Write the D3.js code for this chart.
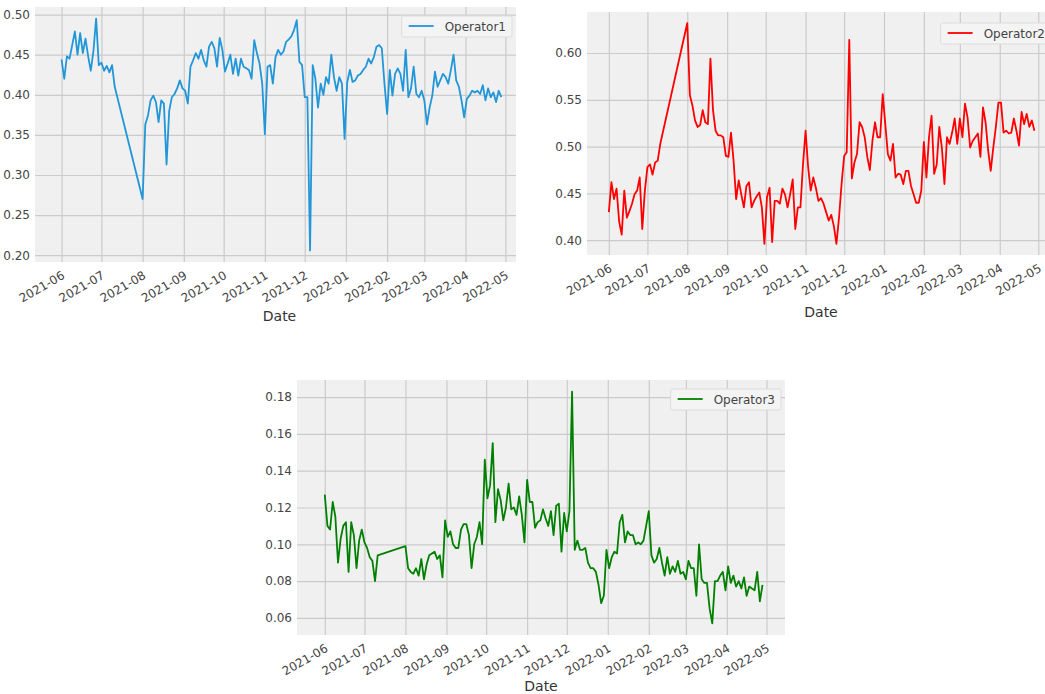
<!DOCTYPE html>
<html>
<head>
<meta charset="utf-8">
<script src="https://cdn.jsdelivr.net/npm/d3@7"></script>
<style>
	body { margin: 0; background: #fff; }
	svg { display: block; font-family: "DejaVu Sans", sans-serif; }
</style>
</head>
<body>
<svg id="chart" width="1045" height="694"></svg>
<script>
// sampled every other day, gap in July
const dates = [
	"2021-06-01","2021-06-03","2021-06-05","2021-06-07","2021-06-09","2021-06-11","2021-06-13","2021-06-15","2021-06-17","2021-06-19","2021-06-21","2021-06-23","2021-06-25","2021-06-27","2021-06-29",
	"2021-07-01","2021-07-03","2021-07-05","2021-07-07","2021-07-09","2021-07-11",
	"2021-08-01","2021-08-03","2021-08-05","2021-08-07","2021-08-09","2021-08-11","2021-08-13","2021-08-15","2021-08-17","2021-08-19","2021-08-21","2021-08-23","2021-08-25","2021-08-27","2021-08-29","2021-08-31",
	"2021-09-02","2021-09-04","2021-09-06","2021-09-08","2021-09-10","2021-09-12","2021-09-14","2021-09-16","2021-09-18","2021-09-20","2021-09-22","2021-09-24","2021-09-26","2021-09-28","2021-09-30",
	"2021-10-02","2021-10-04","2021-10-06","2021-10-08","2021-10-10","2021-10-12","2021-10-14","2021-10-16","2021-10-18","2021-10-20","2021-10-22","2021-10-24","2021-10-26","2021-10-28","2021-10-30",
	"2021-11-01","2021-11-03","2021-11-05","2021-11-07","2021-11-09","2021-11-11","2021-11-13","2021-11-15","2021-11-17","2021-11-19","2021-11-21","2021-11-23","2021-11-25","2021-11-27","2021-11-29",
	"2021-12-01","2021-12-03","2021-12-05","2021-12-07","2021-12-09","2021-12-11","2021-12-13","2021-12-15","2021-12-17","2021-12-19","2021-12-21","2021-12-23","2021-12-25","2021-12-27","2021-12-29","2021-12-31",
	"2022-01-02","2022-01-04","2022-01-06","2022-01-08","2022-01-10","2022-01-12","2022-01-14","2022-01-16","2022-01-18","2022-01-20","2022-01-22","2022-01-24","2022-01-26","2022-01-28","2022-01-30",
	"2022-02-01","2022-02-03","2022-02-05","2022-02-07","2022-02-09","2022-02-11","2022-02-13","2022-02-15","2022-02-17","2022-02-19","2022-02-21","2022-02-23","2022-02-25","2022-02-27",
	"2022-03-01","2022-03-03","2022-03-05","2022-03-07","2022-03-09","2022-03-11","2022-03-13","2022-03-15","2022-03-17","2022-03-19","2022-03-21","2022-03-23","2022-03-25","2022-03-27","2022-03-29","2022-03-31",
	"2022-04-02","2022-04-04","2022-04-06","2022-04-08","2022-04-10","2022-04-12","2022-04-14","2022-04-16","2022-04-18","2022-04-20","2022-04-22","2022-04-24","2022-04-26","2022-04-28"
];

const operator1 = [
	0.444,0.420,0.448,0.445,0.462,0.479,0.450,0.477,0.452,0.470,0.448,0.430,0.455,0.495,0.437,
	0.440,0.430,0.436,0.428,0.437,0.410,
	0.270,0.363,0.374,0.393,0.399,0.391,0.366,0.393,0.389,0.313,0.380,0.397,0.401,0.408,0.418,0.408,
	0.405,0.389,0.435,0.443,0.452,0.445,0.456,0.443,0.435,0.460,0.466,0.458,0.435,0.471,0.456,
	0.429,0.439,0.450,0.426,0.445,0.424,0.445,0.435,0.433,0.431,0.420,0.468,0.452,0.439,0.414,
	0.351,0.435,0.437,0.414,0.447,0.456,0.450,0.454,0.466,0.469,0.473,0.481,0.493,0.441,0.437,
	0.397,0.397,0.206,0.437,0.420,0.384,0.414,0.400,0.422,0.414,0.450,0.422,0.405,0.422,0.414,0.345,
	0.416,0.431,0.416,0.418,0.424,0.426,0.431,0.435,0.445,0.439,0.447,0.460,0.462,0.458,0.414,
	0.376,0.431,0.399,0.426,0.433,0.426,0.405,0.456,0.397,0.408,0.435,0.401,0.397,0.405,
	0.393,0.363,0.384,0.399,0.429,0.410,0.418,0.426,0.422,0.414,0.431,0.450,0.418,0.410,0.393,0.372,
	0.395,0.399,0.405,0.403,0.405,0.401,0.412,0.393,0.408,0.397,0.403,0.391,0.405,0.397
];

const operator2 = [
	0.430,0.462,0.444,0.455,0.420,0.406,0.453,0.424,0.431,0.439,0.449,0.453,0.467,0.412,0.453,
	0.478,0.481,0.470,0.483,0.485,0.503,
	0.632,0.555,0.544,0.528,0.521,0.523,0.539,0.526,0.524,0.594,0.539,0.517,0.512,0.512,0.510,0.490,
	0.489,0.515,0.485,0.444,0.464,0.449,0.435,0.458,0.462,0.435,0.442,0.447,0.451,0.435,0.396,
	0.446,0.456,0.398,0.442,0.442,0.439,0.455,0.449,0.435,0.449,0.465,0.412,0.435,0.435,0.481,
	0.517,0.478,0.453,0.467,0.456,0.442,0.445,0.439,0.430,0.421,0.427,0.415,0.396,0.424,0.460,
	0.490,0.494,0.614,0.466,0.483,0.492,0.526,0.521,0.510,0.489,0.475,0.506,0.526,0.510,0.510,0.556,
	0.524,0.492,0.485,0.503,0.467,0.471,0.470,0.460,0.474,0.474,0.458,0.449,0.440,0.440,0.453,
	0.505,0.467,0.510,0.533,0.471,0.481,0.521,0.499,0.460,0.510,0.503,0.515,0.530,0.503,
	0.530,0.510,0.546,0.531,0.499,0.506,0.510,0.514,0.489,0.542,0.526,0.496,0.474,0.499,0.521,0.547,
	0.547,0.515,0.517,0.514,0.515,0.530,0.517,0.501,0.537,0.524,0.535,0.521,0.528,0.517
];

const operator3 = [
	0.127,0.110,0.108,0.123,0.115,0.090,0.103,0.110,0.112,0.085,0.112,0.105,0.087,0.102,0.108,
	0.101,0.098,0.093,0.091,0.080,0.094,
	0.099,0.087,0.085,0.084,0.087,0.083,0.092,0.081,0.089,0.094,0.095,0.096,0.092,0.094,0.082,0.113,
	0.104,0.107,0.100,0.098,0.098,0.108,0.111,0.111,0.105,0.087,0.100,0.104,0.112,0.100,0.146,
	0.125,0.132,0.155,0.112,0.130,0.124,0.113,0.120,0.133,0.119,0.120,0.116,0.126,0.116,0.101,
	0.135,0.123,0.123,0.109,0.112,0.113,0.119,0.114,0.110,0.118,0.105,0.121,0.122,0.096,0.117,
	0.107,0.118,0.183,0.097,0.102,0.097,0.097,0.098,0.090,0.087,0.087,0.085,0.078,0.068,0.072,0.097,
	0.087,0.093,0.096,0.095,0.112,0.116,0.101,0.107,0.105,0.105,0.100,0.101,0.100,0.102,0.110,
	0.118,0.094,0.090,0.092,0.098,0.090,0.083,0.093,0.084,0.088,0.085,0.091,0.084,0.085,
	0.081,0.091,0.087,0.087,0.072,0.100,0.081,0.079,0.079,0.065,0.057,0.080,0.080,0.083,0.085,0.075,
	0.088,0.079,0.083,0.077,0.080,0.076,0.082,0.072,0.077,0.076,0.075,0.085,0.069,0.078
];

const yTicks1 = [0.20, 0.25, 0.30, 0.35, 0.40, 0.45, 0.50];
const yTicks2 = [0.40, 0.45, 0.50, 0.55, 0.60];
const yTicks3 = [0.06, 0.08, 0.10, 0.12, 0.14, 0.16, 0.18];

const parseDate = d3.timeParse("%Y-%m-%d");
const formatMonth = d3.timeFormat("%Y-%m");
const svg = d3.select("#chart");

function drawPanel(p) {
	let rows = dates.map((d, i) => ({ date: parseDate(d), value: p.values[i] }));

	let x = d3.scaleTime()
		.domain([parseDate(p.xStart), parseDate(p.xEnd)])
		.range([0, p.w]);

	// matplotlib style 5% margin on the value axis
	let ext = d3.extent(rows, (d) => d.value);
	let pad = (ext[1] - ext[0]) * 0.05;
	let y = d3.scaleLinear()
		.domain([ext[0] - pad, ext[1] + pad])
		.range([p.h, 0]);

	let g = svg.append("g").attr("transform", `translate(${p.left},${p.top})`);

	g.append("rect")
		.attr("width", p.w)
		.attr("height", p.h)
		.attr("fill", "#f0f0f0");

	let xAxis = g.append("g")
		.attr("class", "x-axis")
		.attr("transform", `translate(0,${p.h})`)
		.call(d3.axisBottom(x)
			.ticks(d3.timeMonth.every(1))
			.tickFormat(formatMonth)
			.tickSize(-p.h));

	let yAxis = g.append("g")
		.attr("class", "y-axis")
		.call(d3.axisLeft(y)
			.tickValues(p.yTicks)
			.tickFormat(d3.format(".2f"))
			.tickSize(-p.w)
			.tickPadding(5));

	g.selectAll(".domain").remove();
	g.selectAll(".tick line")
		.attr("stroke", "#cbcbcb")
		.attr("stroke-width", 1.2);
	g.selectAll(".tick text")
		.attr("fill", "#444")
		.attr("font-size", 12)
		.attr("font-family", "DejaVu Sans, sans-serif");

	xAxis.selectAll("text")
		.attr("y", 0)
		.attr("dy", "0.75em")
		.attr("text-anchor", "end")
		.attr("transform", "translate(-1,8) rotate(-30)");

	g.append("path")
		.datum(rows)
		.attr("fill", "none")
		.attr("stroke", p.color)
		.attr("stroke-width", 1.8)
		.attr("stroke-linejoin", "round")
		.attr("d", d3.line().x((d) => x(d.date)).y((d) => y(d.value)));

	g.append("text")
		.attr("x", p.w / 2 + p.dateDx)
		.attr("y", p.dateY)
		.attr("text-anchor", "middle")
		.attr("font-size", 14)
		.attr("fill", "#333")
		.text("Date");

	// legend
	let legend = g.append("g");
	let box = legend.append("rect")
		.attr("fill", "#f4f4f4")
		.attr("stroke", "#dcdcdc")
		.attr("rx", 2);
	legend.append("line")
		.attr("x1", 7).attr("x2", 32)
		.attr("y1", 10).attr("y2", 10)
		.attr("stroke", p.color)
		.attr("stroke-width", 1.8);
	let label = legend.append("text")
		.attr("x", 43)
		.attr("y", 14.5)
		.attr("font-size", 12)
		.attr("fill", "#444")
		.text(p.name);
	let boxW = 43 + label.node().getComputedTextLength() + 6;
	box.attr("width", boxW).attr("height", 21);
	legend.attr("transform", `translate(${p.w - 4 - boxW},${p.legendTop})`);
}

drawPanel({
	name: "Operator1", values: operator1, color: "#2196d8", yTicks: yTicks1,
	left: 35, top: 7, w: 481, h: 255,
	xStart: "2021-05-12", xEnd: "2022-05-09", dateY: 314, dateDx: 4, legendTop: 9
});

drawPanel({
	name: "Operator2", values: operator2, color: "#ff0000", yTicks: yTicks2,
	left: 587, top: 12, w: 468, h: 243,
	xStart: "2021-05-15", xEnd: "2022-05-14", dateY: 305, dateDx: 0, legendTop: 11
});

drawPanel({
	name: "Operator3", values: operator3, color: "#008000", yTicks: yTicks3,
	left: 297, top: 380, w: 488, h: 255,
	xStart: "2021-05-11", xEnd: "2022-05-15", dateY: 311, dateDx: 0, legendTop: 9
});
</script>
</body>
</html>
